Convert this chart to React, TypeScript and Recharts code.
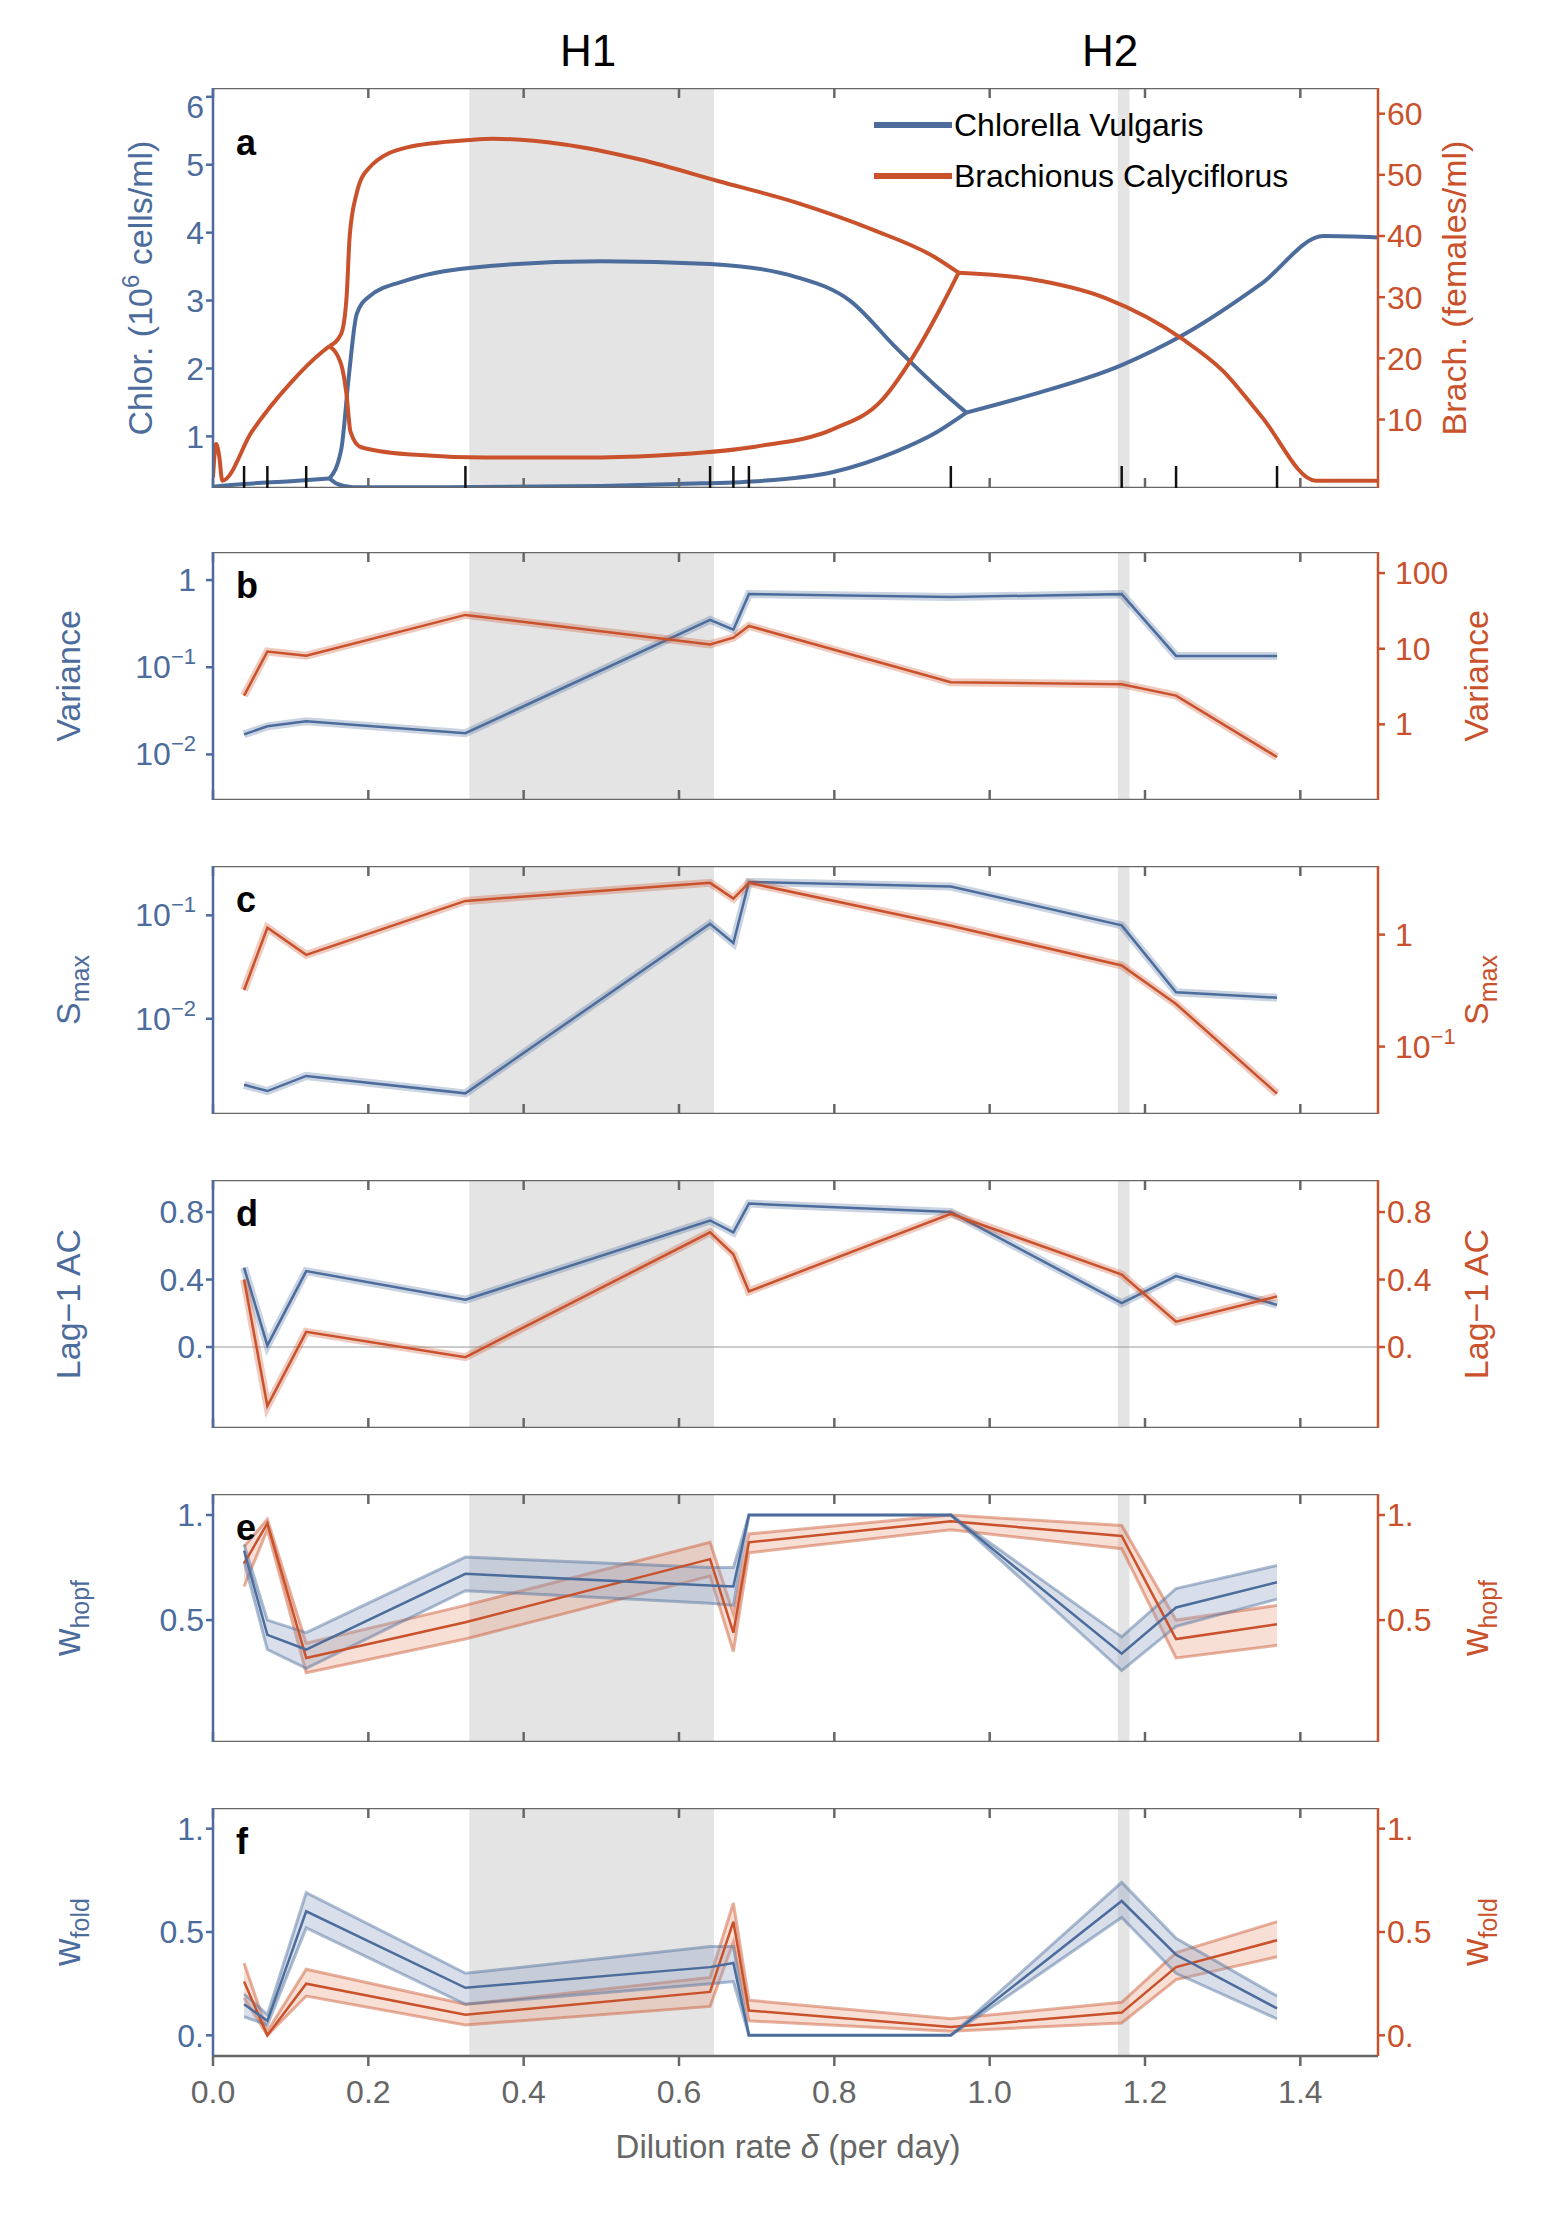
import React from "react";
import {
  ComposedChart,
  Line,
  Area,
  Scatter,
  XAxis,
  YAxis,
  ReferenceArea,
  ReferenceLine,
} from "recharts";

const BLUE = "#4c6c9c";
const RED = "#c9512b";
const FRAME = "#666666";
const FONT = "Liberation Sans, Arial, sans-serif";

// sampled dilution rates
const DELTA = [0.04, 0.07, 0.12, 0.325, 0.64, 0.67, 0.69, 0.95, 1.17, 1.24, 1.37];
const X_TICKS = [0, 0.2, 0.4, 0.6, 0.8, 1.0, 1.2, 1.4];
const H1 = [0.33, 0.645];
const H2 = [1.165, 1.18];

// panel a: bifurcation branches (delta, value)
const CHLOR_EQ = [[0, 0.26], [0.04, 0.3], [0.1, 0.34], [0.15, 0.38]];
const CHLOR_LOW = [[0.15, 0.38], [0.16, 0.3], [0.18, 0.25], [0.3, 0.25], [0.5, 0.27], [0.6, 0.3], [0.7, 0.34], [0.8, 0.48], [0.88, 0.78], [0.93, 1.05], [0.97, 1.35]];
const CHLOR_HIGH = [[0.15, 0.38], [0.165, 0.8], [0.175, 1.9], [0.185, 2.8], [0.2, 3.05], [0.25, 3.3], [0.33, 3.48], [0.5, 3.58], [0.64, 3.54], [0.75, 3.35], [0.82, 3.0], [0.88, 2.3], [0.93, 1.75], [0.97, 1.35]];
const CHLOR_TAIL = [[0.97, 1.35], [1.05, 1.6], [1.17, 2.05], [1.25, 2.5], [1.35, 3.25], [1.43, 3.95], [1.5, 3.93]];
const BRACH_EQ = [[0, 0.5], [0.004, 6], [0.008, 4], [0.012, 0], [0.05, 8], [0.1, 16], [0.14, 21], [0.15, 22]];
const BRACH_HIGH = [[0.15, 22], [0.165, 24], [0.172, 30], [0.176, 40], [0.185, 47], [0.2, 51], [0.25, 54.5], [0.33, 55.7], [0.36, 55.9], [0.45, 55], [0.55, 52.5], [0.65, 49], [0.75, 45.5], [0.85, 41], [0.93, 36.5], [0.96, 34]];
const BRACH_LOW = [[0.15, 22], [0.165, 19], [0.172, 14], [0.177, 8], [0.19, 5.5], [0.25, 4.3], [0.35, 3.8], [0.5, 3.8], [0.6, 4.3], [0.7, 5.6], [0.8, 8.5], [0.86, 13], [0.9, 20], [0.94, 29], [0.96, 34]];
const BRACH_TAIL = [[0.96, 34], [1.05, 33], [1.15, 29.8], [1.25, 23], [1.3, 18], [1.35, 10.5], [1.42, 0], [1.5, 0]];

// panel b: variance
const VAR_CHLOR = [0.017, 0.021, 0.024, 0.0175, 0.35, 0.27, 0.69, 0.64, 0.69, 0.135, 0.135];
const VAR_BRACH = [2.4, 9.2, 8.1, 28, 11.4, 14, 20, 3.6, 3.4, 2.4, 0.37];
// panel c: Smax
const SMAX_CHLOR = [0.0023, 0.002, 0.0028, 0.0019, 0.083, 0.054, 0.21, 0.19, 0.08, 0.018, 0.016];
const SMAX_BRACH = [0.32, 1.15, 0.66, 2.0, 2.9, 2.1, 2.9, 1.2, 0.53, 0.24, 0.038];
// panel d: lag-1 autocorrelation
const AC_CHLOR = [0.47, 0.01, 0.45, 0.28, 0.75, 0.68, 0.85, 0.8, 0.26, 0.42, 0.25];
const AC_BRACH = [0.4, -0.35, 0.09, -0.06, 0.68, 0.55, 0.33, 0.79, 0.43, 0.15, 0.3];
// panel e: w_hopf
const HOPF_CHLOR = [0.83, 0.43, 0.36, 0.72, 0.665, 0.66, 1.0, 1.0, 0.34, 0.56, 0.68];
const HOPF_CHLOR_LO = [0.78, 0.36, 0.27, 0.64, 0.58, 0.57, 1.0, 1.0, 0.26, 0.47, 0.6];
const HOPF_CHLOR_HI = [0.86, 0.5, 0.44, 0.8, 0.75, 0.75, 1.0, 1.0, 0.42, 0.65, 0.76];
const HOPF_BRACH = [0.77, 0.96, 0.32, 0.49, 0.79, 0.44, 0.87, 0.97, 0.9, 0.41, 0.48];
const HOPF_BRACH_LO = [0.66, 0.93, 0.25, 0.41, 0.71, 0.35, 0.82, 0.93, 0.84, 0.32, 0.38];
const HOPF_BRACH_HI = [0.85, 0.98, 0.39, 0.57, 0.87, 0.53, 0.91, 1.0, 0.95, 0.5, 0.57];
// panel f: w_fold
const FOLD_CHLOR = [0.15, 0.07, 0.6, 0.23, 0.33, 0.35, 0.0, 0.0, 0.65, 0.39, 0.13];
const FOLD_CHLOR_LO = [0.09, 0.05, 0.52, 0.15, 0.25, 0.26, 0.0, 0.0, 0.57, 0.3, 0.08];
const FOLD_CHLOR_HI = [0.2, 0.1, 0.69, 0.3, 0.43, 0.43, 0.0, 0.0, 0.74, 0.47, 0.19];
const FOLD_BRACH = [0.26, 0.0, 0.25, 0.1, 0.21, 0.55, 0.12, 0.04, 0.11, 0.33, 0.46];
const FOLD_BRACH_LO = [0.18, 0.0, 0.19, 0.05, 0.14, 0.45, 0.07, 0.02, 0.06, 0.27, 0.38];
const FOLD_BRACH_HI = [0.35, 0.02, 0.32, 0.15, 0.28, 0.64, 0.17, 0.08, 0.16, 0.4, 0.55];

const A_LEFT_MIN = 0.24;

const pts = (arr: number[][]) => arr.map(([d, v]) => ({ d, v }));
const rows = (...cols: number[][]) =>
  DELTA.map((d, i) => {
    const r: any = { d };
    cols.forEach((c, k) => (r["s" + k] = c[i]));
    return r;
  });

const supTick = (color: string, side: "left" | "right", exps: Record<string, string>) => (props: any) => {
  const { x, y, payload } = props;
  const v = payload.value;
  const anchor = side === "left" ? "end" : "start";
  const dx = side === "left" ? -8 : 8;
  const e = exps[String(v)];
  return (
    <text x={x + dx} y={y + 11} textAnchor={anchor} fill={color} fontSize={32} fontFamily={FONT}>
      {e ? (
        <>
          <tspan>10</tspan>
          <tspan dy={-14} fontSize={22}>{e}</tspan>
        </>
      ) : (
        <tspan>{String(v)}</tspan>
      )}
    </text>
  );
};

const fmtDot = (v: number) => {
  if (v === 0) return "0.";
  if (v === 1) return "1.";
  return v < 0 ? "\u2212" + String(-v) : String(v);
};

const tickStyle = (c: string) => ({ fill: c, fontSize: 32, fontFamily: FONT });

function Panel(props: any) {
  const { top, height, data, left, right, last, children } = props;
  return (
    <div style={{ position: "absolute", left: 0, top }}>
      <ComposedChart
        width={1559}
        height={height + (last ? 70 : 0)}
        data={data}
        margin={{ top: 0, right: 0, bottom: 0, left: 0 }}
      >
        <XAxis
          type="number"
          dataKey="d"
          domain={[0, 1.5]}
          ticks={X_TICKS}
          allowDataOverflow
          mirror={!last}
          height={last ? 70 : 1}
          tickFormatter={last ? (v: number) => v.toFixed(1) : () => ""}
          tick={tickStyle(FRAME)}
          tickMargin={14}
          stroke={FRAME}
          strokeWidth={2.5}
          tickSize={10}
        />
        <XAxis
          xAxisId="top"
          orientation="top"
          type="number"
          dataKey="d"
          domain={[0, 1.5]}
          ticks={X_TICKS}
          allowDataOverflow
          mirror
          height={1}
          tickFormatter={() => ""}
          stroke={FRAME}
          strokeWidth={2.5}
          tickSize={10}
        />
        <YAxis yAxisId="l" width={213} stroke={BLUE} strokeWidth={2.5} tickSize={7} {...left} allowDataOverflow />
        <YAxis yAxisId="r" orientation="right" width={181} stroke={RED} strokeWidth={2.5} tickSize={7} {...right} allowDataOverflow />
        <ReferenceArea yAxisId="l" x1={H1[0]} x2={H1[1]} fill="#e4e4e4" fillOpacity={1} stroke="none" ifOverflow="visible" />
        <ReferenceArea yAxisId="l" x1={H2[0]} x2={H2[1]} fill="#e4e4e4" fillOpacity={1} stroke="none" ifOverflow="visible" />
        {children}
      </ComposedChart>
    </div>
  );
}

const curve = (arr: number[][], axis: string, color: string, key: string) => (
  <Line key={key} yAxisId={axis} data={pts(arr)} dataKey="v" type="monotone" stroke={color} strokeWidth={4} dot={false} isAnimationActive={false} />
);

const thick = (axis: string, key: string, color: string) => [
  <Line key={key + "h"} yAxisId={axis} dataKey={key} type="linear" stroke={color} strokeOpacity={0.3} strokeWidth={8} dot={false} isAnimationActive={false} />,
  <Line key={key} yAxisId={axis} dataKey={key} type="linear" stroke={color} strokeWidth={2.5} dot={false} isAnimationActive={false} />,
];

const band = (axis: string, lo: string, hi: string, mid: string, color: string, fill: string) => [
  <Area key={mid + "a"} yAxisId={axis} dataKey={(r: any) => [r[lo], r[hi]]} type="linear" fill={fill} fillOpacity={0.35} stroke={color} strokeOpacity={0.45} strokeWidth={3} isAnimationActive={false} />,
  <Line key={mid} yAxisId={axis} dataKey={mid} type="linear" stroke={color} strokeWidth={2.5} dot={false} isAnimationActive={false} />,
];

const Tickmark = (p: any) => <line x1={p.cx} x2={p.cx} y1={p.cy} y2={p.cy - 22} stroke="#111" strokeWidth={2.5} />;

const txt = (x: number, y: number, s: React.ReactNode, color: string, rot = false, size = 34, extra: any = {}) => (
  <text x={x} y={y} fill={color} fontSize={size} fontFamily={FONT} textAnchor="middle" transform={rot ? `rotate(-90 ${x} ${y})` : undefined} {...extra}>
    {s}
  </text>
);

const sub = (base: string, s: string) => (
  <>
    <tspan>{base}</tspan>
    <tspan dy={9} fontSize={25}>{s}</tspan>
  </>
);

export default function App() {
  const dataB = rows(VAR_CHLOR, VAR_BRACH);
  const dataC = rows(SMAX_CHLOR, SMAX_BRACH);
  const dataD = rows(AC_CHLOR, AC_BRACH);
  const dataE = rows(HOPF_CHLOR, HOPF_CHLOR_LO, HOPF_CHLOR_HI, HOPF_BRACH, HOPF_BRACH_LO, HOPF_BRACH_HI);
  const dataF = rows(FOLD_CHLOR, FOLD_CHLOR_LO, FOLD_CHLOR_HI, FOLD_BRACH, FOLD_BRACH_LO, FOLD_BRACH_HI);
  const markers = DELTA.map((d) => ({ d, v: A_LEFT_MIN }));

  const linTicks = (c: string, ticks: number[], domain: number[]) => ({
    type: "number", domain, ticks, tick: tickStyle(c), tickFormatter: fmtDot,
  });

  return (
    <div style={{ position: "absolute", left: 0, top: 0, width: 1559, height: 2232, background: "#fff" }}>
      <Panel
        top={88}
        height={400}
        left={{ type: "number", domain: [A_LEFT_MIN, 6.13], ticks: [1, 2, 3, 4, 5, 6], tick: tickStyle(BLUE) }}
        right={{ type: "number", domain: [-1.2, 64.2], ticks: [0, 10, 20, 30, 40, 50, 60], tick: tickStyle(RED) }}
      >
        {curve(CHLOR_EQ, "l", BLUE, "c0")}
        {curve(CHLOR_LOW, "l", BLUE, "c1")}
        {curve(CHLOR_HIGH, "l", BLUE, "c2")}
        {curve(CHLOR_TAIL, "l", BLUE, "c3")}
        {curve(BRACH_EQ, "r", RED, "b0")}
        {curve(BRACH_LOW, "r", RED, "b1")}
        {curve(BRACH_HIGH, "r", RED, "b2")}
        {curve(BRACH_TAIL, "r", RED, "b3")}
        <Scatter yAxisId="l" data={markers} dataKey="v" shape={<Tickmark />} isAnimationActive={false} />
      </Panel>
      <Panel
        top={552}
        height={248}
        data={dataB}
        left={{ type: "number", scale: "log", domain: [0.003, 2.1], ticks: [0.01, 0.1, 1], tick: supTick(BLUE, "left", { "0.01": "\u22122", "0.1": "\u22121" }) }}
        right={{ type: "number", scale: "log", domain: [0.1, 190], ticks: [1, 10, 100], tick: supTick(RED, "right", {}) }}
      >
        {thick("l", "s0", BLUE)}
        {thick("r", "s1", RED)}
      </Panel>
      <Panel
        top={866}
        height={248}
        data={dataC}
        left={{ type: "number", scale: "log", domain: [0.0012, 0.3], ticks: [0.01, 0.1], tick: supTick(BLUE, "left", { "0.01": "\u22122", "0.1": "\u22121" }) }}
        right={{ type: "number", scale: "log", domain: [0.025, 4.1], ticks: [0.1, 1], tick: supTick(RED, "right", { "0.1": "\u22121" }) }}
      >
        {thick("l", "s0", BLUE)}
        {thick("r", "s1", RED)}
      </Panel>
      <Panel
        top={1180}
        height={248}
        data={dataD}
        left={linTicks(BLUE, [-0.4, 0, 0.4, 0.8], [-0.48, 0.99])}
        right={linTicks(RED, [-0.4, 0, 0.4, 0.8], [-0.48, 0.99])}
      >
        <ReferenceLine yAxisId="l" y={0} stroke="#999" strokeWidth={1} />
        {thick("l", "s0", BLUE)}
        {thick("r", "s1", RED)}
      </Panel>
      <Panel
        top={1494}
        height={248}
        data={dataE}
        left={linTicks(BLUE, [0, 0.5, 1], [-0.08, 1.1])}
        right={linTicks(RED, [0, 0.5, 1], [-0.08, 1.1])}
      >
        {band("r", "s4", "s5", "s3", RED, "#e8a28a")}
        {band("l", "s1", "s2", "s0", BLUE, "#8ea3c4")}
      </Panel>
      <Panel
        top={1808}
        height={248}
        data={dataF}
        last
        left={linTicks(BLUE, [0, 0.5, 1], [-0.1, 1.1])}
        right={linTicks(RED, [0, 0.5, 1], [-0.1, 1.1])}
      >
        {band("r", "s4", "s5", "s3", RED, "#e8a28a")}
        {band("l", "s1", "s2", "s0", BLUE, "#8ea3c4")}
      </Panel>

      <svg width={1559} height={2232} style={{ position: "absolute", left: 0, top: 0, pointerEvents: "none" }}>
        {txt(588, 66, "H1", "#000", false, 44)}
        {txt(1110, 66, "H2", "#000", false, 44)}
        <line x1={874} x2={952} y1={125} y2={125} stroke={BLUE} strokeWidth={6} />
        <line x1={874} x2={952} y1={176} y2={176} stroke={RED} strokeWidth={6} />
        {txt(954, 136, "Chlorella Vulgaris", "#000", false, 32, { textAnchor: "start" })}
        {txt(954, 187, "Brachionus Calyciflorus", "#000", false, 32, { textAnchor: "start" })}
        {["a", "b", "c", "d", "e", "f"].map((l, i) =>
          <text key={l} x={236} y={[155, 598, 912, 1226, 1540, 1854][i]} fontSize={36} fontWeight="bold" fontFamily={FONT}>{l}</text>
        )}
        {txt(152, 288, <><tspan>Chlor. (10</tspan><tspan dy={-13} fontSize={24}>6</tspan><tspan dy={13}> cells/ml)</tspan></>, BLUE, true)}
        {txt(1466, 288, "Brach. (females/ml)", RED, true)}
        {txt(80, 676, "Variance", BLUE, true)}
        {txt(1488, 676, "Variance", RED, true)}
        {txt(80, 990, sub("S", "max"), BLUE, true)}
        {txt(1488, 990, sub("S", "max"), RED, true)}
        {txt(80, 1304, "Lag\u22121 AC", BLUE, true)}
        {txt(1488, 1304, "Lag\u22121 AC", RED, true)}
        {txt(80, 1618, sub("w", "hopf"), BLUE, true, 38)}
        {txt(1488, 1618, sub("w", "hopf"), RED, true, 38)}
        {txt(80, 1932, sub("w", "fold"), BLUE, true, 38)}
        {txt(1488, 1932, sub("w", "fold"), RED, true, 38)}
        {txt(788, 2158, <><tspan>Dilution rate </tspan><tspan fontStyle="italic">δ</tspan><tspan> (per day)</tspan></>, FRAME, false, 33)}
      </svg>
    </div>
  );
}
